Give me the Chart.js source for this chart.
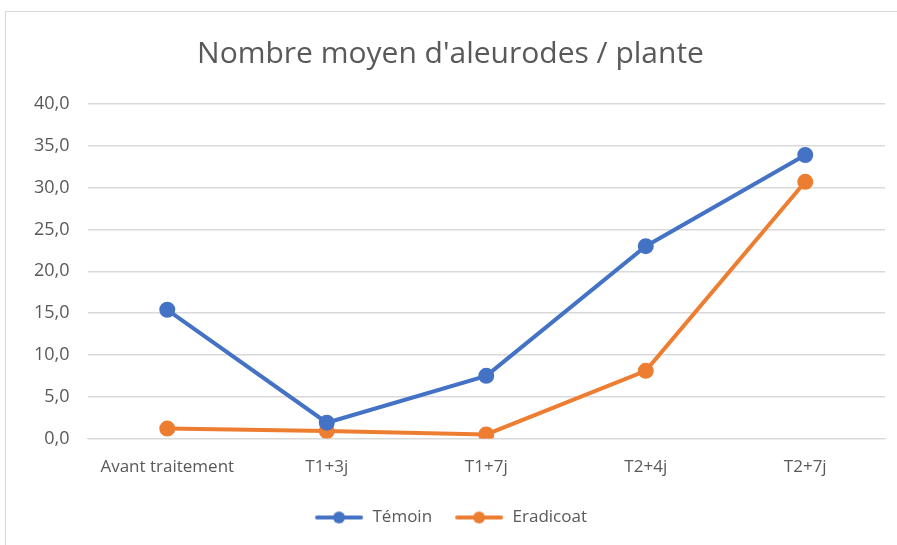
<!DOCTYPE html>
<html>
<head>
<meta charset="utf-8">
<script src="https://cdn.jsdelivr.net/npm/chart.js@4"></script>
<style>
  body { margin: 0; background: #fff; }
  #frame { position: absolute; left: 5px; top: 11px; width: 900px; height: 540px;
           border-left: 1px solid #d9d9d9; border-top: 1px solid #d9d9d9; }
  #wrap { position: absolute; left: 0; top: 0; width: 897px; height: 545px; }
</style>
</head>
<body>
<div id="frame"></div>
<div id="wrap"><canvas id="myChart"></canvas></div>
<script>
var categories = ["Avant traitement", "T1+3j", "T1+7j", "T2+4j", "T2+7j"];
var temoin = [15.4, 1.9, 7.5, 23.0, 33.9];
var eradicoat = [1.2, 0.9, 0.5, 8.1, 30.7];
var seriesNames = ["Témoin", "Eradicoat"];
var lineColors = ["#4472C4", "#ED7D31"];

// legend marker: short line with a dot
function marker(color) {
  var c = document.createElement("canvas");
  c.width = 50;
  c.height = 14;
  var ctx = c.getContext("2d");
  ctx.strokeStyle = color;
  ctx.lineWidth = 4;
  ctx.lineCap = "round";
  ctx.beginPath();
  ctx.moveTo(3, 7);
  ctx.lineTo(47, 7);
  ctx.stroke();
  ctx.fillStyle = color;
  ctx.beginPath();
  ctx.arc(25, 7, 6, 0, Math.PI * 2);
  ctx.fill();
  return c;
}

Chart.defaults.font.family = "'Open Sans', sans-serif";
Chart.defaults.color = "#595959";

new Chart("myChart", {
  type: "line",
  data: {
    labels: categories,
    datasets: [
      {
        label: seriesNames[0],
        data: temoin,
        borderColor: lineColors[0],
        backgroundColor: lineColors[0],
        borderWidth: 4,
        pointRadius: 6,
        pointHoverRadius: 6,
      },
      {
        label: seriesNames[1],
        data: eradicoat,
        borderColor: lineColors[1],
        backgroundColor: lineColors[1],
        borderWidth: 4,
        pointRadius: 6,
        pointHoverRadius: 6,
      },
    ],
  },
  options: {
    responsive: true,
    maintainAspectRatio: false,
    animation: false,
    layout: { padding: { left: 16, right: 12, top: 36, bottom: 9 } },
    plugins: {
      title: {
        display: true,
        text: "Nombre moyen d'aleurodes / plante",
        font: { size: 30, weight: "normal" },
        color: "#595959",
        padding: { top: 0, bottom: 32 },
      },
      legend: {
        position: "bottom",
        labels: {
          usePointStyle: true,
          pointStyleWidth: 50,
          font: { size: 17 },
          padding: 22,
          generateLabels: function (chart) {
            return chart.data.datasets.map(function (ds, i) {
              return {
                text: ds.label,
                pointStyle: marker(lineColors[i]),
                fontColor: "#595959",
                datasetIndex: i,
              };
            });
          },
        },
      },
      tooltip: { enabled: false },
    },
    scales: {
      x: {
        offset: true,
        grid: { display: false },
        border: { color: "#d9d9d9", width: 1 },
        ticks: { font: { size: 17 }, padding: 10, maxRotation: 0 },
      },
      y: {
        min: 0,
        max: 40,
        grid: { color: "#d9d9d9", lineWidth: 1.5, drawTicks: false },
        border: { display: false },
        ticks: {
          stepSize: 5,
          font: { size: 18 },
          padding: 18,
          callback: function (v) {
            return v.toFixed(1).replace(".", ",");
          },
        },
      },
    },
  },
});
</script>
</body>
</html>
